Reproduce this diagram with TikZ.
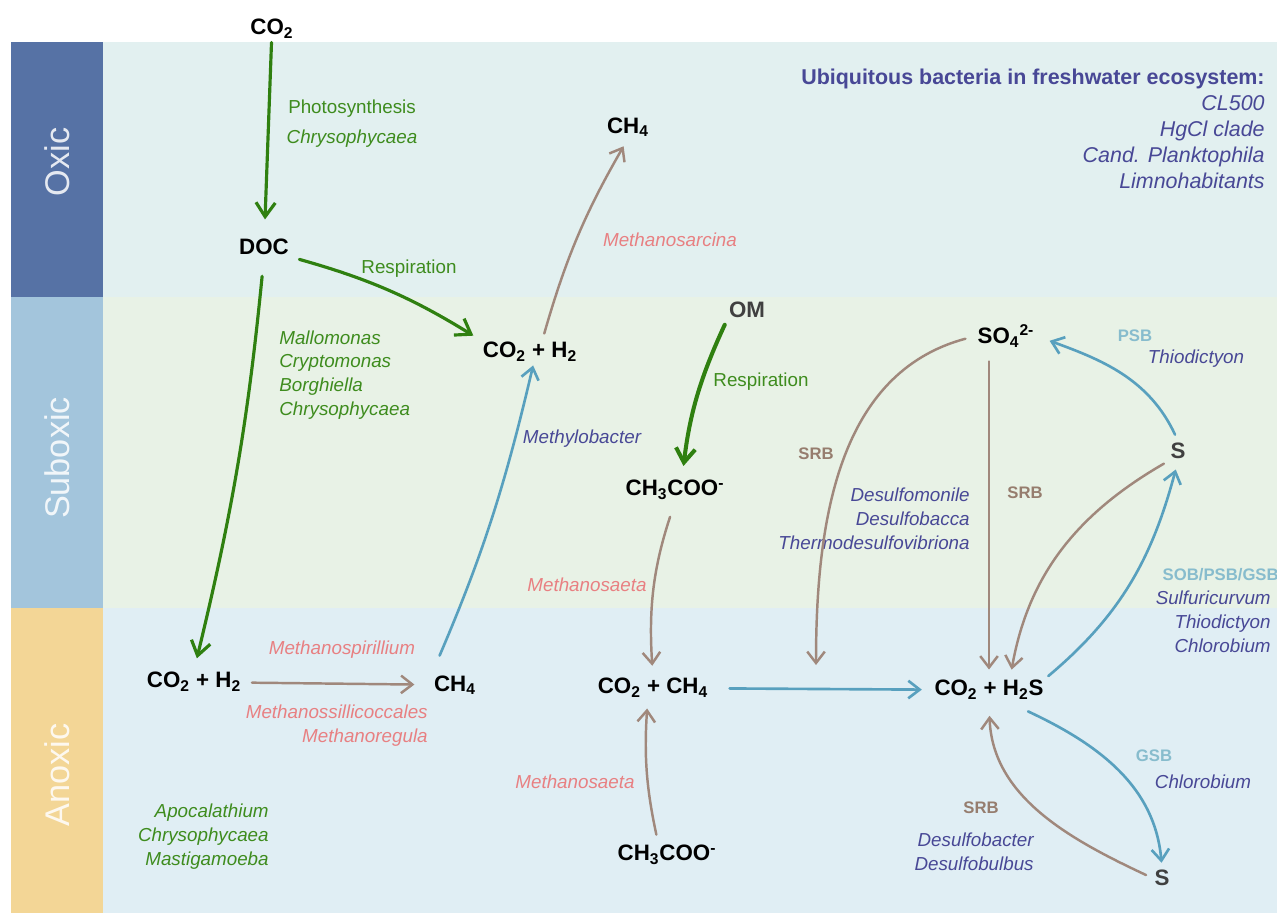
\documentclass[tikz,border=0pt]{standalone}
\usepackage{fontspec}
\setmainfont{Liberation Sans}
\usepackage{tikz}
\usetikzlibrary{arrows.meta}

\definecolor{oxicband}{RGB}{86,114,165}
\definecolor{suboxicband}{RGB}{163,197,220}
\definecolor{anoxicband}{RGB}{243,214,150}
\definecolor{oxicbg}{RGB}{226,240,240}
\definecolor{suboxicbg}{RGB}{232,242,230}
\definecolor{anoxicbg}{RGB}{224,238,244}
\definecolor{greenarr}{RGB}{47,128,16}
\definecolor{greentxt}{RGB}{62,140,30}
\definecolor{brownarr}{RGB}{160,136,124}
\definecolor{srbtxt}{RGB}{150,125,110}
\definecolor{bluearr}{RGB}{88,160,190}
\definecolor{bluetxt}{RGB}{135,188,205}
\definecolor{navytxt}{RGB}{72,72,150}
\definecolor{pinktxt}{RGB}{232,128,130}
\definecolor{sgray}{RGB}{64,64,64}

\begin{document}
\begin{tikzpicture}
		[x=0.02cm, y=0.02cm,
		chem/.style={font=\fontsize{12.7}{15}\selectfont\bfseries,inner sep=1pt},
		genus/.style={font=\fontsize{10.7}{13.6}\selectfont\itshape,inner sep=0pt},
		process/.style={font=\fontsize{10.7}{13.6}\selectfont,text=greentxt,inner sep=0pt},
		guild/.style={font=\fontsize{9.5}{11}\selectfont\bfseries,inner sep=0pt},
		zone/.style={font=\fontsize{19.5}{22}\selectfont,text=white,text opacity=0.85,rotate=90},
		greenline/.style={-{Straight Barb[length=8pt,width=11pt]},line cap=round,line join=round,draw=greenarr,line width=1.8pt},
		brownline/.style={-{Straight Barb[length=6.5pt,width=10pt]},line cap=round,line join=round,draw=brownarr,line width=1.4pt},
		blueline/.style={-{Straight Barb[length=6.5pt,width=10pt]},line cap=round,line join=round,draw=bluearr,line width=1.5pt}]
		\useasboundingbox (0,0) rectangle (1277,-913);
		\fill[oxicbg] (103,-42) rectangle (1277,-297);
		\fill[suboxicbg] (103,-297) rectangle (1277,-608);
		\fill[anoxicbg] (103,-608) rectangle (1277,-913);
		\fill[oxicband] (11,-42) rectangle (103,-297);
		\fill[suboxicband] (11,-297) rectangle (103,-608);
		\fill[anoxicband] (11,-608) rectangle (103,-913);
		\node at (57,-162) (oxic) [zone] {Oxic};
		\node at (57,-458) (suboxic) [zone] {Suboxic};
		\node at (57,-775) (anoxic) [zone] {Anoxic};

		\node at (272,-29) (co2top) [chem] {CO\textsubscript{2}};
		\node at (264,-247) (doc) [chem] {DOC};
		\node at (530,-352) (co2h2mid) [chem] {CO\textsubscript{2} + H\textsubscript{2}};
		\node at (628,-127) (ch4top) [chem] {CH\textsubscript{4}};
		\node at (747,-310) (om) [chem,text=sgray] {OM};
		\node at (675,-490) (acemid) [chem] {CH\textsubscript{3}COO\textsuperscript{-}};
		\node at (194,-682) (co2h2bot) [chem] {CO\textsubscript{2} + H\textsubscript{2}};
		\node at (455,-685) (ch4bot) [chem] {CH\textsubscript{4}};
		\node at (653,-688) (co2ch4) [chem] {CO\textsubscript{2} + CH\textsubscript{4}};
		\node at (667,-855) (acebot) [chem] {CH\textsubscript{3}COO\textsuperscript{-}};
		\node at (989,-690) (co2h2s) [chem] {CO\textsubscript{2} + H\textsubscript{2}S};
		\node at (1006,-336) (so4) [chem] {SO\textsubscript{4}\textsuperscript{2-}};
		\node at (1178,-451) (sright) [chem,text=sgray] {S};
		\node at (1162,-878) (sbot) [chem,text=sgray] {S};
		\coordinate (srbend) at (816,-665);

		\node at (352,-109) (photo) [process] {Photosynthesis};
		\node at (352,-139) (chryso) [genus,text=greentxt] {Chrysophycaea};
		\node at (409,-269) (resp1) [process] {Respiration};
		\node at (761,-382) (resp2) [process] {Respiration};
		\node at (670,-240) (msarcina) [genus,text=pinktxt] {Methanosarcina};
		\node at (582,-439) (mbacter) [genus,text=navytxt] {Methylobacter};
		\node at (279,-375) (algae1) [genus,text=greentxt,align=left,anchor=west] {Mallomonas\\Cryptomonas\\Borghiella\\Chrysophycaea};
		\node at (342,-650) (mspir) [genus,text=pinktxt] {Methanospirillium};
		\node at (428,-726) (mregula) [genus,text=pinktxt,align=right,anchor=east] {Methanossillicoccales\\Methanoregula};
		\node at (269,-837) (algae2) [genus,text=greentxt,align=right,anchor=east] {Apocalathium\\Chrysophycaea\\Mastigamoeba};
		\node at (587,-585) (msaeta1) [genus,text=pinktxt] {Methanosaeta};
		\node at (575,-782) (msaeta2) [genus,text=pinktxt] {Methanosaeta};
		\node at (816,-454) (srb1) [guild,text=srbtxt] {SRB};
		\node at (1025,-493) (srb2) [guild,text=srbtxt] {SRB};
		\node at (970,-519) (srbgen1) [genus,text=navytxt,align=right,anchor=east] {Desulfomonile\\Desulfobacca\\Thermodesulfovibriona};
		\node at (1135,-336) (psb) [guild,text=bluetxt] {PSB};
		\node at (1196,-359) (thio) [genus,text=navytxt] {Thiodictyon};
		\node at (1279,-575) (sob) [guild,text=bluetxt,anchor=east] {SOB/PSB/GSB};
		\node at (1271,-622) (sobgen) [genus,text=navytxt,align=right,anchor=east] {Sulfuricurvum\\Thiodictyon\\Chlorobium};
		\node at (1154,-756) (gsb) [guild,text=bluetxt] {GSB};
		\node at (1203,-782) (chloro) [genus,text=navytxt] {Chlorobium};
		\node at (981,-808) (srb3) [guild,text=srbtxt] {SRB};
		\node at (1034,-852) (srbgen2) [genus,text=navytxt,align=right,anchor=east] {Desulfobacter\\Desulfobulbus};
		\node at (1265,-69) (ubiq) [anchor=north east,align=right,inner sep=0pt,text=navytxt,font=\fontsize{12.2}{14.8}\selectfont] {\textbf{Ubiquitous bacteria in freshwater ecosystem:}\\\textit{CL500}\\\textit{HgCl clade}\\\textit{Cand. Planktophila}\\\textit{Limnohabitants}};

		\draw[greenline,shorten <=1pt,shorten >=10pt] (co2top) -- (doc);
		\draw[greenline,shorten <=5pt,shorten >=5pt] (doc.south east) to[bend left=8] (co2h2mid.north west);
		\draw[greenline,shorten <=11pt,shorten >=7pt] (doc.south) to[bend left=4] (co2h2bot.north);
		\draw[brownline,shorten <=5pt,shorten >=10pt] (co2h2bot) -- (ch4bot);
		\draw[blueline,shorten <=11pt,shorten >=1pt] (ch4bot.north west) to[bend right=5] ([xshift=2pt]co2h2mid.south);
		\draw[brownline,shorten <=4pt,shorten >=5pt] ([xshift=7pt]co2h2mid.north) to[bend left=7] (ch4top.south);
		\draw[greenline,line width=2.3pt,shorten <=3pt,shorten >=7pt] (om.south west) to[bend right=9] ([xshift=4pt]acemid.north);
		\draw[brownline,shorten <=9pt,shorten >=6pt] (acemid.south) to[bend right=11] (co2ch4.north);
		\draw[brownline,shorten <=5pt,shorten >=5pt] ([xshift=-5pt]acebot.north) to[bend left=8] ([xshift=-3pt]co2ch4.south);
		\draw[blueline,shorten <=11pt,shorten >=6pt] (co2ch4) -- (co2h2s);

		\draw[brownline,shorten <=6pt] (so4.west) to[out=195,in=90] (srbend);
		\draw[brownline,shorten <=7pt,shorten >=5pt] (so4.south -| co2h2s.north) -- (co2h2s.north);
		\draw[blueline,shorten <=4pt,shorten >=8pt] (sright.north) to[out=115,in=-20] (so4.east);
		\draw[brownline,shorten <=3pt,shorten >=5pt] (sright.south west) to[out=210,in=80] ([xshift=12pt]co2h2s.north);
		\draw[blueline,shorten <=2pt,shorten >=5pt] (co2h2s.north east) to[out=40,in=-105] (sright.south);
		\draw[blueline,shorten >=3pt] ([xshift=-10pt,yshift=-5.5pt]co2h2s.south east) to[out=-25,in=95] (sbot.north);
		\draw[brownline,shorten <=4pt,shorten >=8pt] (sbot.west) to[out=155,in=-88] (co2h2s.south);
	\end{tikzpicture}
\end{document}
